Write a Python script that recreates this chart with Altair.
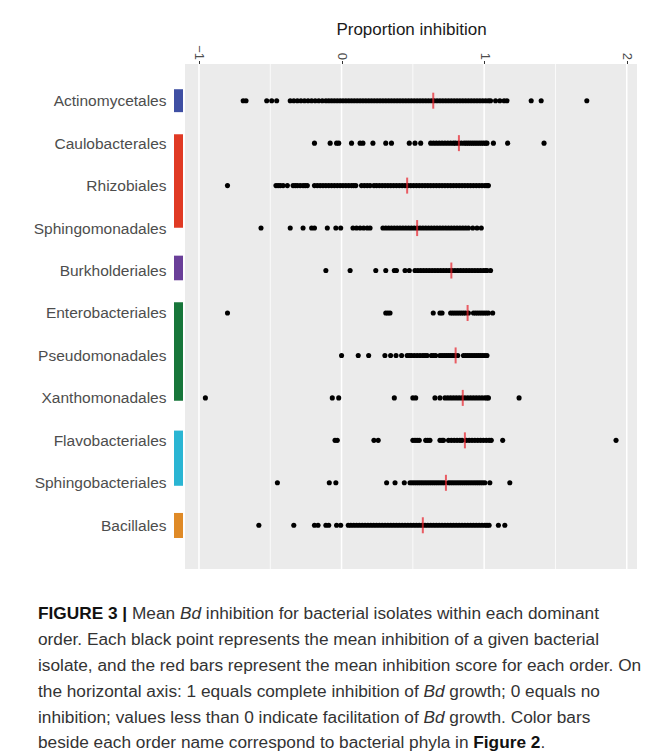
import altair as alt
import pandas as pd

orders = ["Actinomycetales", "Caulobacterales", "Rhizobiales", "Sphingomonadales",
          "Burkholderiales", "Enterobacteriales", "Pseudomonadales", "Xanthomonadales",
          "Flavobacteriales", "Sphingobacteriales", "Bacillales"]

actino = [-0.69, -0.67, -0.525, -0.49, -0.455,
          -0.36, -0.335, -0.31, -0.285, -0.26, -0.235, -0.21, -0.185, -0.16, -0.135, -0.11,
          -0.09, -0.07, -0.05, -0.03, -0.01, 0.01, 0.03, 0.05, 0.07, 0.09, 0.11, 0.13, 0.15,
          0.17, 0.19, 0.21, 0.23, 0.25, 0.27, 0.29, 0.31, 0.33, 0.35, 0.37, 0.39, 0.41, 0.43,
          0.45, 0.47, 0.49, 0.51, 0.53, 0.55, 0.57, 0.59, 0.61, 0.63, 0.65, 0.67, 0.69, 0.71,
          0.73, 0.75, 0.77, 0.79, 0.81, 0.83, 0.85, 0.87, 0.89, 0.91, 0.93, 0.95, 0.97, 0.99,
          1.01, 1.03, 1.045, 1.08, 1.11, 1.14, 1.16, 1.33, 1.40, 1.72]
caulo = [-0.19, -0.08, -0.035, -0.02, 0.07, 0.13, 0.15, 0.22, 0.31, 0.35, 0.475, 0.515, 0.555,
         0.625, 0.645, 0.665, 0.685, 0.705, 0.725, 0.745, 0.765, 0.785, 0.80, 0.82, 0.84, 0.86,
         0.875, 0.89, 0.905, 0.92, 0.935, 0.95, 0.965, 0.98, 0.995, 1.01, 1.02, 1.065, 1.165, 1.42]
rhizo = [-0.80, -0.46, -0.445, -0.43, -0.41, -0.38, -0.34, -0.325, -0.31, -0.29, -0.27, -0.255,
         -0.24, -0.19, -0.17, -0.15, -0.13, -0.11, -0.09, -0.07, -0.05, -0.03, -0.01, 0.01, 0.03,
         0.05, 0.07, 0.085, 0.10, 0.14, 0.16, 0.18, 0.20, 0.227, 0.245, 0.265, 0.285, 0.305,
         0.325, 0.345, 0.365, 0.385, 0.405, 0.425, 0.445, 0.465, 0.485, 0.505, 0.525, 0.545,
         0.565, 0.585, 0.605, 0.625, 0.645, 0.665, 0.685, 0.705, 0.725, 0.745, 0.765, 0.785,
         0.805, 0.825, 0.845, 0.865, 0.885, 0.905, 0.925, 0.945, 0.965, 0.985, 1.005, 1.02, 1.03]
sphingo = [-0.565, -0.36, -0.27, -0.21, -0.19, -0.10, -0.04, -0.006, 0.08, 0.105, 0.13, 0.155,
           0.18, 0.20, 0.29, 0.31, 0.33, 0.35, 0.37, 0.39, 0.41, 0.43, 0.45, 0.47, 0.49, 0.51,
           0.53, 0.55, 0.57, 0.59, 0.61, 0.63, 0.65, 0.67, 0.69, 0.71, 0.73, 0.75, 0.77, 0.79,
           0.81, 0.83, 0.85, 0.87, 0.89, 0.92, 0.95, 0.98]
burk = [-0.11, 0.06, 0.24, 0.31, 0.37, 0.385, 0.445, 0.475, 0.515, 0.535, 0.555, 0.575, 0.595,
        0.615, 0.635, 0.655, 0.675, 0.695, 0.715, 0.735, 0.755, 0.775, 0.795, 0.815, 0.835,
        0.855, 0.875, 0.895, 0.915, 0.935, 0.955, 0.975, 0.995, 1.01, 1.02, 1.045]
entero = [-0.80, 0.31, 0.325, 0.34, 0.643, 0.69, 0.705, 0.765, 0.78, 0.795, 0.81, 0.825, 0.84,
          0.855, 0.87, 0.89, 0.925, 0.94, 0.955, 0.97, 0.985, 1.0, 1.015, 1.03, 1.06]
pseudo = [0.0, 0.117, 0.19, 0.304, 0.344, 0.382, 0.421, 0.46, 0.475, 0.49, 0.51, 0.53, 0.55,
          0.57, 0.585, 0.60, 0.63, 0.645, 0.66, 0.69, 0.705, 0.72, 0.735, 0.75, 0.765, 0.78,
          0.795, 0.815, 0.855, 0.87, 0.885, 0.90, 0.915, 0.93, 0.945, 0.96, 0.975, 0.99, 1.005, 1.02]
xantho = [-0.955, -0.065, -0.02, 0.37, 0.50, 0.52, 0.655, 0.69, 0.725, 0.745, 0.765, 0.785,
          0.805, 0.825, 0.845, 0.865, 0.885, 0.905, 0.925, 0.945, 0.965, 0.985, 1.005, 1.02,
          1.03, 1.245]
flavo = [-0.046, -0.03, 0.227, 0.257, 0.50, 0.515, 0.53, 0.545, 0.59, 0.605, 0.62, 0.69, 0.705,
         0.715, 0.75, 0.77, 0.79, 0.81, 0.83, 0.845, 0.875, 0.895, 0.915, 0.935, 0.955, 0.975,
         0.995, 1.015, 1.035, 1.05, 1.13, 1.925]
sphingob = [-0.45, -0.086, -0.04, 0.316, 0.375, 0.44, 0.48, 0.495, 0.51, 0.525, 0.54, 0.555,
            0.57, 0.585, 0.60, 0.615, 0.63, 0.645, 0.66, 0.675, 0.69, 0.705, 0.72, 0.75, 0.765,
            0.78, 0.795, 0.81, 0.825, 0.84, 0.855, 0.87, 0.885, 0.90, 0.915, 0.93, 0.945, 0.96,
            0.975, 0.99, 1.005, 1.04, 1.18]
bacil = [-0.58, -0.335, -0.19, -0.165, -0.11, -0.09, -0.035, -0.006, 0.047, 0.065, 0.085,
         0.105, 0.125, 0.145, 0.165, 0.185, 0.205, 0.225, 0.245, 0.265, 0.285, 0.305, 0.325,
         0.345, 0.365, 0.385, 0.405, 0.425, 0.445, 0.465, 0.485, 0.505, 0.525, 0.545, 0.565,
         0.585, 0.605, 0.625, 0.645, 0.665, 0.685, 0.705, 0.725, 0.745, 0.765, 0.785, 0.805,
         0.825, 0.845, 0.865, 0.885, 0.905, 0.925, 0.945, 0.965, 0.985, 1.005, 1.02, 1.035,
         1.10, 1.145]

order_values = [actino, caulo, rhizo, sphingo, burk, entero, pseudo, xantho, flavo, sphingob, bacil]
order_means = [0.643, 0.823, 0.46, 0.53, 0.77, 0.884, 0.80, 0.85, 0.865, 0.732, 0.57]

phylum_colors = ["#3f4fa3", "#e03a24", "#6a3f99", "#17763a", "#2ab5d3", "#df8a27"]
phylum_start = [-0.27, 0.79, 3.65, 4.75, 7.77, 9.71]
phylum_end = [0.27, 2.99, 4.23, 7.07, 9.07, 10.30]

grid_major = [-1, 0, 1, 2]
grid_minor = [-0.5, 0.5, 1.5]
x_ticks = [-1, 0, 1, 2]

caption_lines = [
    [("FIGURE 3 | ", "bold"), ("Mean ", "normal"), ("Bd", "italic"),
     (" inhibition for bacterial isolates within each dominant", "normal")],
    [("order. Each black point represents the mean inhibition of a given bacterial", "normal")],
    [("isolate, and the red bars represent the mean inhibition score for each order. On", "normal")],
    [("the horizontal axis: 1 equals complete inhibition of ", "normal"), ("Bd", "italic"),
     (" growth; 0 equals no", "normal")],
    [("inhibition; values less than 0 indicate facilitation of ", "normal"), ("Bd", "italic"),
     (" growth. Color bars", "normal")],
    [("beside each order name correspond to bacterial phyla in ", "normal"), ("Figure 2", "bold"),
     (".", "normal")],
]

# Approximate Helvetica/Arial advance widths (per 1000 em) to place caption segments
REG = {' ': 278, ',': 278, '.': 278, ':': 278, ';': 278, '|': 260, '-': 333}
REG.update({d: 556 for d in "0123456789"})
REG.update(dict(zip("abcdefghijklmnopqrstuvwxyz",
                    [556, 556, 500, 556, 556, 278, 556, 556, 222, 222, 500, 222, 833, 556, 556,
                     556, 556, 333, 500, 278, 556, 500, 722, 500, 500, 500])))
REG.update(dict(zip("ABCDEFGHIJKLMNOPQRSTUVWXYZ",
                    [667, 667, 722, 722, 667, 611, 778, 722, 278, 500, 667, 556, 833, 722, 778,
                     667, 778, 722, 667, 611, 722, 667, 944, 667, 667, 611])))
BOLD = dict(REG)
BOLD.update({' ': 278, '|': 280, '.': 278})
BOLD.update(dict(zip("abcdefghijklmnopqrstuvwxyz",
                     [556, 611, 556, 611, 556, 333, 611, 611, 278, 278, 556, 278, 889, 611, 611,
                      611, 611, 389, 556, 333, 611, 556, 778, 556, 556, 500])))


def text_width(s, style, size):
    table = BOLD if style == "bold" else REG
    return sum(table.get(ch, 556) for ch in s) * size / 1000.0


W, H = 452, 505
PAD_L, PAD_T = 177, 56
CANVAS_W, CANVAS_H = 636, 748
CAP_SIZE = 17.25
CAP_X = 38

x_scale = alt.Scale(domain=[-1.098, 2.072], nice=False, zero=False)
y_scale = alt.Scale(domain=[-0.864, 11.03], nice=False, zero=False, reverse=True)

x_axis = alt.Axis(orient="top", values=x_ticks, title="Proportion inhibition", grid=False,
                  domain=False, ticks=True, tickSize=3.5, tickColor="#333333", tickWidth=1,
                  labelAngle=90, labelAlign="right", labelBaseline="middle", labelPadding=1,
                  labelFontSize=13, labelColor="#4d4d4d", labelFont="Liberation Sans",
                  labelFlush=False, titleFont="Liberation Sans", titleFontSize=17,
                  titleFontWeight="normal", titleColor="#1a1a1a", titlePadding=6)
label_expr = "[" + ",".join("'" + o + "'" for o in orders) + "][datum.value]"
y_axis = alt.Axis(values=list(range(len(orders))), labelExpr=label_expr, title=None, grid=False,
                  domain=False, ticks=False, labelPadding=19, labelFontSize=15.5,
                  labelColor="#4d4d4d", labelFont="Liberation Sans", labelFlush=False,
                  labelAlign="right", labelBaseline="middle")

points_df = pd.DataFrame([{"row": i, "value": v}
                          for i, vals in enumerate(order_values) for v in vals])
means_df = pd.DataFrame({"row": list(range(len(orders))), "mean": order_means})
phyla_df = pd.DataFrame({"start": phylum_start, "end": phylum_end, "color": phylum_colors})

panel = alt.Chart(pd.DataFrame({"p": [0]})).mark_rect(color="#ebebeb").encode(
    x=alt.value(0), x2=alt.value(W), y=alt.value(0), y2=alt.value(H))

major = alt.Chart(pd.DataFrame({"g": grid_major})).mark_rule(
    color="white", strokeWidth=1.5).encode(x=alt.X("g:Q", scale=x_scale, axis=x_axis))
minor = alt.Chart(pd.DataFrame({"g": grid_minor})).mark_rule(
    color="white", strokeWidth=0.8).encode(x=alt.X("g:Q", scale=x_scale, axis=x_axis))

bars = alt.Chart(phyla_df).mark_rect().encode(
    x=alt.value(-11), x2=alt.value(-2),
    y=alt.Y("start:Q", scale=y_scale, axis=y_axis), y2="end:Q",
    color=alt.Color("color:N", scale=None))

pts = alt.Chart(points_df).mark_circle(size=26, color="black", opacity=1).encode(
    x=alt.X("value:Q", scale=x_scale, axis=x_axis),
    y=alt.Y("row:Q", scale=y_scale, axis=y_axis))

means = alt.Chart(means_df).mark_tick(orient="vertical", size=16, thickness=2,
                                      color="#e8202a").encode(
    x=alt.X("mean:Q", scale=x_scale, axis=x_axis),
    y=alt.Y("row:Q", scale=y_scale, axis=y_axis))

caption_layers = []
x0 = CAP_X - 8 - PAD_L
y0 = 619.3 - 8 - PAD_T
for li, segs in enumerate(caption_lines):
    cx = x0
    for text, style in segs:
        lead = text[:len(text) - len(text.lstrip(" "))]
        cx += text_width(lead, style, CAP_SIZE)
        body = text.lstrip(" ")
        caption_layers.append(
            alt.Chart(pd.DataFrame({"t": [body]})).mark_text(
                align="left", baseline="alphabetic", font="Liberation Sans",
                fontSize=CAP_SIZE,
                fontWeight="bold" if style == "bold" else "normal",
                fontStyle="italic" if style == "italic" else "normal",
                color="#111111" if style == "bold" else "#333333",
                x=cx, y=y0 + li * 25.8).encode(text="t:N"))
        cx += text_width(body, style, CAP_SIZE)

chart = alt.layer(panel, major, minor, bars, pts, means, *caption_layers).properties(
    width=W, height=H,
    background="white",
    autosize=alt.AutoSizeParams(type="none"),
    padding={"left": PAD_L, "top": PAD_T, "right": CANVAS_W - PAD_L - W,
             "bottom": CANVAS_H - PAD_T - H},
).configure_view(strokeWidth=0)

chart.save("out.html", embed_options={"renderer": "svg", "actions": False})
